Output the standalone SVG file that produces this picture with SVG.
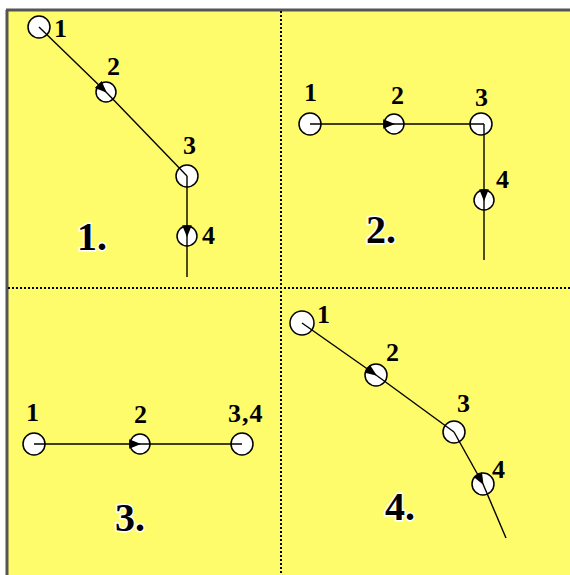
<svg xmlns="http://www.w3.org/2000/svg" width="570" height="575" viewBox="0 0 570 575">
<style>
.node{fill:#fff;stroke:#000;stroke-width:1.5}
.edge{stroke:#000;stroke-width:1.4;fill:none}
.num{font-family:"Liberation Serif",serif;font-weight:bold;font-size:26px;fill:#000}
.big{font-family:"Liberation Serif",serif;font-weight:bold;font-size:40px;fill:#000;stroke:#fff;stroke-width:3;paint-order:stroke}
.div{stroke:#000;stroke-width:2;stroke-dasharray:2 2}
</style>
<defs>
<marker id="arr" markerUnits="userSpaceOnUse" markerWidth="12" markerHeight="10" viewBox="0 0 10 8" refX="9" refY="4" orient="auto">
<path d="M0,0 L10,4 L0,8 z" fill="#000"/>
</marker>
</defs>
<rect x="7" y="10" width="563" height="565" fill="#FFFC6C"/>
<line x1="6" y1="10" x2="570" y2="10" stroke="#555" stroke-width="3"/>
<line x1="7" y1="10" x2="7" y2="575" stroke="#555" stroke-width="3"/>
<g id="dividers">
<line class="div" x1="8" y1="288" x2="570" y2="288"/>
<line class="div" x1="281" y1="11" x2="281" y2="575"/>
</g>
<g id="nodes">
<g id="p1n1"><circle class="node" cx="39" cy="27" r="11"/><text class="num" x="54" y="37">1</text></g>
<g id="p1n2"><circle class="node" cx="106" cy="92" r="10"/><text class="num" x="107" y="75">2</text></g>
<g id="p1n3"><circle class="node" cx="187" cy="176" r="11"/><text class="num" x="183" y="154">3</text></g>
<g id="p1n4"><circle class="node" cx="187" cy="236" r="10"/><text class="num" x="202" y="244">4</text></g>
<g id="p2n1"><circle class="node" cx="310" cy="124" r="11"/><text class="num" x="304" y="101">1</text></g>
<g id="p2n2"><circle class="node" cx="394" cy="124" r="10"/><text class="num" x="391" y="104">2</text></g>
<g id="p2n3"><circle class="node" cx="481" cy="124" r="11"/><text class="num" x="475" y="106">3</text></g>
<g id="p2n4"><circle class="node" cx="484" cy="200" r="10"/><text class="num" x="496" y="188">4</text></g>
<g id="p3n1"><circle class="node" cx="34" cy="444" r="11"/><text class="num" x="26" y="421">1</text></g>
<g id="p3n2"><circle class="node" cx="140" cy="444" r="10"/><text class="num" x="134" y="423">2</text></g>
<g id="p3n3"><circle class="node" cx="242" cy="444" r="11"/><text class="num" x="228" y="422" letter-spacing="1">3,4</text></g>
<g id="p4n1"><circle class="node" cx="302" cy="323" r="12"/><text class="num" x="317" y="323">1</text></g>
<g id="p4n2"><circle class="node" cx="376" cy="375" r="11"/><text class="num" x="386" y="361">2</text></g>
<g id="p4n3"><circle class="node" cx="454" cy="432" r="11"/><text class="num" x="457" y="412">3</text></g>
<g id="p4n4"><circle class="node" cx="483" cy="484" r="11"/><text class="num" x="492" y="478">4</text></g>
</g>
<g id="connectors">
<line class="edge" x1="39" y1="27" x2="106" y2="92" marker-end="url(#arr)"/>
<line class="edge" x1="106" y1="92" x2="187" y2="176"/>
<line class="edge" x1="187" y1="176" x2="187" y2="236" marker-end="url(#arr)"/>
<line class="edge" x1="187" y1="236" x2="187" y2="277"/>
<line class="edge" x1="310" y1="124" x2="394" y2="124" marker-end="url(#arr)"/>
<line class="edge" x1="394" y1="124" x2="484" y2="124"/>
<line class="edge" x1="484" y1="124" x2="484" y2="200" marker-end="url(#arr)"/>
<line class="edge" x1="484" y1="200" x2="484" y2="260"/>
<line class="edge" x1="34" y1="444" x2="140" y2="444" marker-end="url(#arr)"/>
<line class="edge" x1="140" y1="444" x2="242" y2="444"/>
<line class="edge" x1="302" y1="323" x2="376" y2="375" marker-end="url(#arr)"/>
<line class="edge" x1="376" y1="375" x2="454" y2="432"/>
<line class="edge" x1="454" y1="432" x2="483" y2="484" marker-end="url(#arr)"/>
<line class="edge" x1="483" y1="484" x2="506" y2="538"/>
</g>
<g id="labels">
<text class="big" x="77" y="250">1.</text>
<text class="big" x="366" y="243">2.</text>
<text class="big" x="115" y="531">3.</text>
<text class="big" x="385" y="520">4.</text>
</g>
</svg>
